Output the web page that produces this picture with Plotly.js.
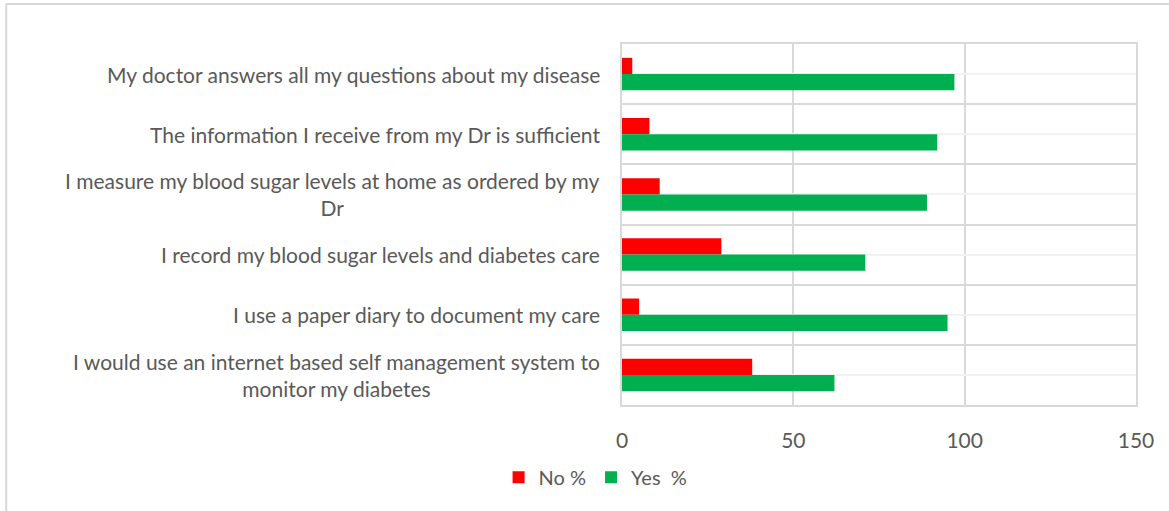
<!DOCTYPE html>
<html>
<head>
<meta charset="utf-8">
<script src="https://cdn.plot.ly/plotly-3.0.1.min.js"></script>
<style>html,body{margin:0;padding:0;background:#fff;}#chart{width:1169px;height:511px;}</style>
</head>
<body>
<div id="chart"></div>
<script>
const categories = [
  "My doctor answers all my questions about my disease",
  "The information I receive from my Dr is sufficient",
  "I measure my blood sugar levels at home as ordered by my<br>Dr",
  "I record my blood sugar levels and diabetes care",
  "I use a paper diary to document my care",
  "I would use an internet based self management system to<br>monitor my diabetes"
];
const noPct  = [3, 8, 11, 29, 5, 38];
const yesPct = [97, 92, 89, 71, 95, 62];
const xTicks = [0, 50, 100, 150];

const idx = categories.map((c, i) => i);
const FONT = "Lato, 'Open Sans', sans-serif";
const GRAY = "#595959";

const traces = [
  {type: "bar", orientation: "h", name: "No %", x: noPct, y: idx, marker: {color: "#ff0000"}, hoverinfo: "x"},
  {type: "bar", orientation: "h", name: "Yes  %", x: yesPct, y: idx, marker: {color: "#00b050"}, hoverinfo: "x"}
];

const annotations = categories.map((c, i) => ({
  xref: "paper", yref: "y", x: 0, y: i, xanchor: "right", yanchor: "middle",
  xshift: -20, text: c, align: "center", showarrow: false,
  font: {family: FONT, size: 21, color: GRAY}
}));

const layout = {
  width: 1169, height: 511,
  margin: {l: 622, r: 33, t: 44, b: 106, pad: 0},
  paper_bgcolor: "#ffffff", plot_bgcolor: "#ffffff",
  barmode: "group", bargap: 0.46, bargroupgap: 0,
  font: {family: FONT, color: GRAY},
  xaxis: {
    range: [0, 150], tickvals: xTicks, ticktext: xTicks.map(String),
    showgrid: true, gridcolor: "#d9d9d9", gridwidth: 2,
    zeroline: false, showline: true, mirror: true, linecolor: "#d9d9d9", linewidth: 2,
    ticks: "", ticklabelstandoff: 16,
    tickfont: {family: FONT, size: 21, color: GRAY}, fixedrange: true
  },
  yaxis: {
    range: [5.5, -0.5], tickvals: idx, showticklabels: false,
    showgrid: true, gridcolor: "#f2f2f2", gridwidth: 2,
    minor: {tickvals: [-0.5, 0.5, 1.5, 2.5, 3.5, 4.5, 5.5], showgrid: true, gridcolor: "#d9d9d9", gridwidth: 2, ticks: ""},
    zeroline: false, showline: true, mirror: true, linecolor: "#d9d9d9", linewidth: 2,
    ticks: "", fixedrange: true
  },
  legend: {
    orientation: "h", xref: "container", yref: "container",
    x: 0.4265, y: 0.066, xanchor: "left", yanchor: "middle",
    font: {family: FONT, size: 20, color: GRAY}, itemwidth: 30, traceorder: "normal",
    bgcolor: "rgba(0,0,0,0)"
  },
  annotations: annotations,
  shapes: [{
    type: "rect", xref: "paper", yref: "paper",
    x0: -1.198, x1: 1.08, y0: -0.32, y1: 1.111,
    line: {color: "#d9d9d9", width: 2}, fillcolor: "rgba(0,0,0,0)", layer: "below"
  }]
};

Plotly.newPlot("chart", traces, layout, {displayModeBar: false, staticPlot: true});
</script>
</body>
</html>
